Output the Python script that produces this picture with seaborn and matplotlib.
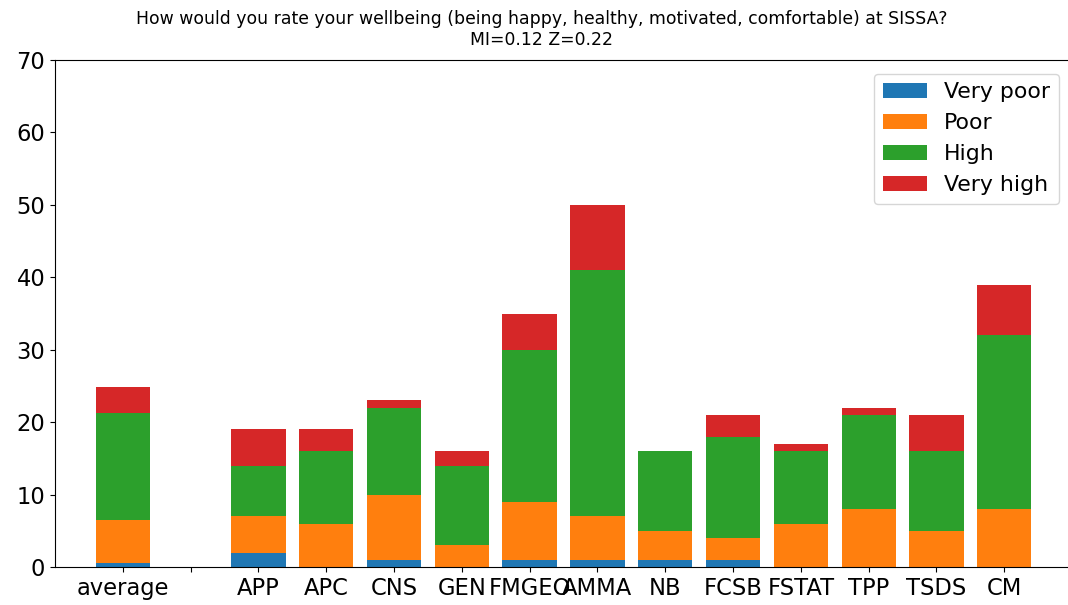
import pandas as pd
import seaborn as sns
import matplotlib.pyplot as plt
from matplotlib.patches import Patch

# --- DATOS ---
groups = ["average", "", "APP", "APC", "CNS", "GEN", "FMGEO", "AMMA",
          "NB", "FCSB", "FSTAT", "TPP", "TSDS", "CM"]
very_poor = [0.58, 0, 2, 0, 1, 0, 1, 1, 1, 1, 0, 0, 0, 0]
poor = [5.92, 0, 5, 6, 9, 3, 8, 6, 4, 3, 6, 8, 5, 8]
high = [14.83, 0, 7, 10, 12, 11, 21, 34, 11, 14, 10, 13, 11, 24]
very_high = [3.5, 0, 5, 3, 1, 2, 5, 9, 0, 3, 1, 1, 5, 7]

levels = ["Very poor", "Poor", "High", "Very high"]
COLORES = ["#1f77b4", "#ff7f0e", "#2ca02c", "#d62728"]

df = pd.DataFrame({"group": groups, "Very poor": very_poor, "Poor": poor,
                   "High": high, "Very high": very_high})
# acumulado para apilar
cum = df[levels].cumsum(axis=1)
cum["group"] = df["group"]

fig = plt.figure(figsize=(10.68, 6.05), dpi=100)
ax = fig.add_axes([55 / 1068, 38 / 605, 1015 / 1068, 507 / 605])

# de arriba hacia abajo, cada capa tapa la anterior
for lvl, col in reversed(list(zip(levels, COLORES))):
    sns.barplot(data=cum, x="group", y=lvl, order=groups, color=col,
                saturation=1, width=0.8, linewidth=0, ax=ax)

ax.set_xlim(-1, 13.97)
ax.set_ylim(0, 70)
ax.set_xlabel("")
ax.set_ylabel("")
ax.spines["right"].set_visible(False)
ax.tick_params(axis="both", labelsize=16.3)

handles = [Patch(facecolor=c, label=l) for l, c in zip(levels, COLORES)]
ax.legend(handles=handles, loc="upper right", fontsize=15.8,
          bbox_to_anchor=(1.0, 0.995))

fig.text(542 / 1068, 1 - 10 / 605,
         "How would you rate your wellbeing (being happy, healthy, motivated, comfortable) at SISSA?\nMI=0.12 Z=0.22",
         ha="center", va="top", fontsize=12.4)

plt.savefig("out.png", dpi=100)
plt.close()
